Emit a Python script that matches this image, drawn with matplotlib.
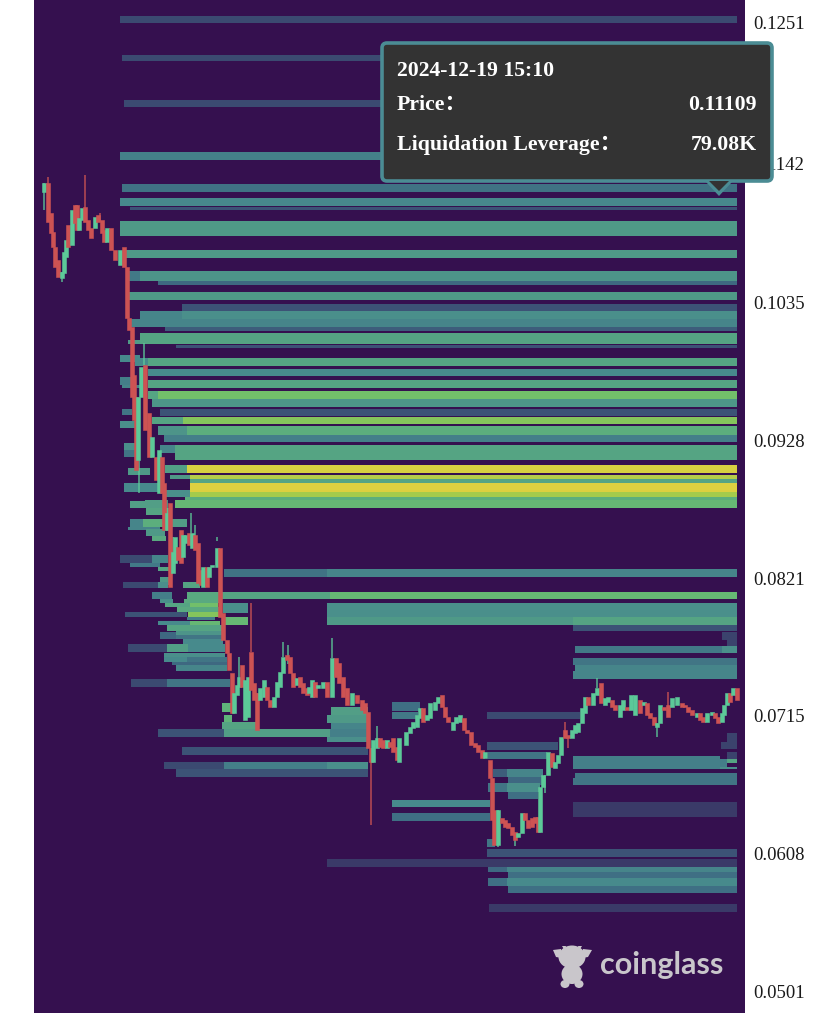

# Liquidation heatmap with candles.
# Hidden time axis runs in chart units (34..745); prices on the right.
import matplotlib
matplotlib.use("Agg")
import matplotlib.pyplot as plt
import matplotlib.patches as mpatches
from matplotlib.colors import LinearSegmentedColormap, Normalize

PRICE_TICKS = [0.1251, 0.1142, 0.1035, 0.0928, 0.0821, 0.0715, 0.0608, 0.0501]
PRICE_LABELS = ["0.1251", "0.1142", "0.1035", "0.0928", "0.0821", "0.0715", "0.0608", "0.0501"]

# (price high, price low, time start, time end, liquidation leverage in K)
BANDS_TOP = [
    (0.12564, 0.12510, 120, 737, 38),
    (0.12262, 0.12216, 122, 737, 38),
    (0.11914, 0.11860, 124, 737, 38),
    (0.11512, 0.11450, 120, 737, 72),
    (0.11264, 0.11202, 122, 737, 58),
    (0.11155, 0.11094, 120, 737, 79),
    (0.11086, 0.11063, 130, 737, 42),
    (0.10977, 0.10861, 120, 737, 95),
    (0.10753, 0.10691, 124, 737, 95),
    (0.10590, 0.10513, 128, 140, 65),
    (0.10590, 0.10513, 140, 737, 90),
    (0.10513, 0.10482, 158, 737, 50),
    (0.10428, 0.10366, 128, 737, 95),
    (0.10335, 0.10281, 182, 737, 42),
    (0.10281, 0.10219, 140, 182, 75),
    (0.10281, 0.10203, 182, 737, 85),
    (0.10219, 0.10157, 130, 737, 75),
    (0.10157, 0.10126, 165, 737, 45),
    (0.10111, 0.10025, 140, 737, 105),
    (0.10060, 0.10025, 128, 140, 95),
    (0.10018, 0.09994, 176, 737, 42),
]
BANDS_MIDDLE = [
    (0.09940, 0.09886, 120, 140, 80),
    (0.09917, 0.09855, 135, 148, 80),
    (0.09917, 0.09855, 148, 737, 105),
    (0.09832, 0.09778, 148, 737, 80),
    (0.09770, 0.09708, 120, 135, 70),
    (0.09708, 0.09685, 122, 140, 75),
    (0.09747, 0.09685, 148, 737, 105),
    (0.09662, 0.09600, 148, 158, 105),
    (0.09662, 0.09600, 158, 737, 135),
    (0.09600, 0.09538, 152, 737, 92),
    (0.09522, 0.09468, 160, 737, 42),
    (0.09522, 0.09476, 122, 132, 60),
    (0.09460, 0.09406, 152, 183, 105),
    (0.09460, 0.09406, 183, 737, 150),
    (0.09429, 0.09375, 120, 135, 85),
    (0.09390, 0.09321, 158, 187, 90),
    (0.09390, 0.09321, 187, 737, 115),
    (0.09321, 0.09267, 164, 737, 70),
    (0.09259, 0.09205, 124, 135, 85),
    (0.09205, 0.09151, 124, 135, 60),
    (0.09244, 0.09182, 160, 175, 75),
    (0.09244, 0.09128, 175, 737, 105),
    (0.09089, 0.09027, 165, 187, 100),
    (0.09089, 0.09027, 187, 737, 220),
    (0.09066, 0.09012, 128, 150, 95),
    (0.09012, 0.08980, 170, 190, 95),
    (0.09012, 0.08980, 190, 737, 190),
    (0.08980, 0.08950, 190, 737, 105),
    (0.08950, 0.08880, 190, 737, 225),
    (0.08950, 0.08880, 124, 160, 80),
    (0.08880, 0.08841, 185, 737, 175),
    (0.08896, 0.08841, 165, 190, 85),
    (0.08841, 0.08818, 185, 737, 115),
    (0.08818, 0.08756, 175, 737, 125),
    (0.08818, 0.08756, 145, 165, 100),
    (0.08810, 0.08756, 130, 145, 100),
    (0.08756, 0.08702, 146, 170, 105),
]
BANDS_LEFT = [
    (0.08671, 0.08609, 130, 143, 75),
    (0.08671, 0.08609, 143, 163, 115),
    (0.08671, 0.08609, 172, 187, 100),
    (0.08609, 0.08586, 128, 160, 75),
    (0.08594, 0.08540, 146, 165, 95),
    (0.08540, 0.08501, 152, 166, 110),
    (0.08392, 0.08330, 120, 152, 38),
    (0.08392, 0.08330, 152, 168, 75),
    (0.08330, 0.08299, 130, 160, 65),
    (0.08299, 0.08269, 158, 170, 105),
    (0.08222, 0.08160, 160, 170, 95),
    (0.08183, 0.08137, 123, 158, 38),
    (0.08183, 0.08137, 158, 168, 85),
    (0.08183, 0.08137, 183, 200, 105),
    (0.08106, 0.08052, 152, 172, 70),
    (0.08106, 0.08052, 187, 220, 110),
    (0.08052, 0.08021, 160, 173, 85),
    (0.08052, 0.08021, 184, 220, 110),
    (0.08021, 0.07990, 165, 173, 105),
    (0.08021, 0.07990, 173, 190, 105),
    (0.08021, 0.07990, 190, 218, 135),
    (0.07990, 0.07951, 177, 220, 110),
    (0.07951, 0.07912, 125, 187, 42),
    (0.07951, 0.07912, 188, 220, 150),
    (0.07912, 0.07890, 187, 215, 70),
    (0.07881, 0.07851, 158, 190, 80),
    (0.07881, 0.07851, 190, 220, 125),
    (0.07851, 0.07804, 167, 222, 105),
    (0.07804, 0.07773, 176, 222, 90),
    (0.07796, 0.07742, 160, 176, 50),
    (0.07773, 0.07742, 176, 222, 60),
    (0.07742, 0.07703, 183, 223, 80),
    (0.07703, 0.07642, 128, 167, 38),
    (0.07703, 0.07642, 167, 188, 100),
    (0.07703, 0.07642, 188, 225, 80),
    (0.07634, 0.07603, 164, 225, 85),
    (0.07603, 0.07564, 164, 187, 80),
    (0.07603, 0.07564, 187, 227, 60),
    (0.07564, 0.07541, 172, 227, 50),
    (0.07541, 0.07495, 176, 227, 75),
    (0.07433, 0.07371, 131, 167, 38),
    (0.07433, 0.07371, 167, 230, 60),
]
BANDS_UPPER_RIGHT = [
    (0.08284, 0.08222, 224, 327, 58),
    (0.08284, 0.08222, 327, 737, 75),
    (0.08106, 0.08052, 222, 330, 105),
    (0.08106, 0.08052, 330, 737, 125),
    (0.08021, 0.07943, 223, 248, 85),
    (0.07912, 0.07851, 223, 248, 125),
    (0.08021, 0.07912, 327, 737, 85),
    (0.07912, 0.07851, 327, 573, 95),
    (0.07912, 0.07851, 573, 737, 105),
    (0.07851, 0.07804, 573, 737, 42),
    (0.07796, 0.07734, 722, 737, 36),
    (0.07734, 0.07680, 727, 737, 36),
    (0.07688, 0.07634, 575, 722, 65),
    (0.07688, 0.07634, 722, 737, 85),
    (0.07595, 0.07541, 573, 737, 60),
    (0.07541, 0.07495, 575, 737, 75),
    (0.07495, 0.07433, 573, 737, 75),
]
BANDS_CENTER = [
    (0.07247, 0.07177, 222, 231, 120),
    (0.07154, 0.07100, 224, 232, 120),
    (0.07100, 0.07046, 222, 257, 105),
    (0.07046, 0.06984, 158, 224, 42),
    (0.07046, 0.06984, 224, 330, 100),
    (0.07046, 0.06984, 330, 368, 70),
    (0.06984, 0.06945, 327, 368, 85),
    (0.07216, 0.07154, 331, 368, 100),
    (0.07154, 0.07092, 327, 368, 95),
    (0.07092, 0.07046, 331, 368, 75),
    (0.06906, 0.06844, 182, 368, 42),
    (0.06790, 0.06736, 164, 224, 38),
    (0.06790, 0.06736, 224, 327, 70),
    (0.06790, 0.06736, 327, 368, 85),
    (0.06736, 0.06674, 176, 368, 42),
    (0.07255, 0.07185, 392, 420, 55),
    (0.07177, 0.07123, 392, 418, 65),
    (0.06496, 0.06442, 392, 490, 80),
    (0.06395, 0.06333, 392, 490, 55),
]
BANDS_LOWER_RIGHT = [
    (0.07177, 0.07123, 487, 580, 38),
    (0.06945, 0.06883, 487, 558, 42),
    (0.06868, 0.06813, 488, 547, 60),
    (0.06736, 0.06674, 493, 507, 45),
    (0.06736, 0.06674, 507, 543, 75),
    (0.06674, 0.06612, 508, 542, 50),
    (0.06628, 0.06558, 488, 507, 60),
    (0.06628, 0.06558, 507, 540, 85),
    (0.06558, 0.06504, 508, 538, 55),
    (0.07015, 0.06945, 727, 737, 36),
    (0.06945, 0.06891, 721, 737, 36),
    (0.06868, 0.06813, 727, 737, 36),
    (0.06837, 0.06736, 573, 720, 70),
    (0.06813, 0.06736, 720, 727, 70),
    (0.06813, 0.06782, 727, 737, 105),
    (0.06751, 0.06736, 720, 737, 85),
    (0.06705, 0.06666, 575, 737, 60),
    (0.06666, 0.06612, 573, 737, 60),
    (0.06481, 0.06364, 573, 737, 32),
    (0.06194, 0.06132, 487, 495, 60),
    (0.06117, 0.06055, 487, 737, 42),
    (0.06040, 0.05978, 327, 737, 32),
    (0.05978, 0.05939, 488, 507, 50),
    (0.05978, 0.05939, 507, 737, 75),
    (0.05939, 0.05892, 508, 737, 55),
    (0.05892, 0.05830, 488, 507, 55),
    (0.05892, 0.05830, 507, 737, 80),
    (0.05830, 0.05776, 508, 737, 55),
    (0.05691, 0.05629, 489, 737, 32),
]
BAND_GROUPS = [BANDS_TOP, BANDS_MIDDLE, BANDS_LEFT, BANDS_UPPER_RIGHT, BANDS_CENTER, BANDS_LOWER_RIGHT]

CANDLE_T = [
    44, 48, 51, 53, 55, 58, 62, 64, 66, 68, 72, 75, 77, 79, 82, 85, 88, 91, 95, 98,
    102, 104, 107, 111, 115, 120, 124, 127, 129, 132, 134, 136, 138, 141, 145, 149, 152, 156, 159, 162,
    164, 167, 170, 173, 175, 178, 181, 183, 186, 189, 192, 195, 198, 201, 203, 207, 209, 212, 217, 220,
    223, 227, 229, 232, 234, 237, 239, 242, 245, 248, 251, 254, 257, 260, 264, 267, 270, 274, 277, 280,
    283, 287, 290, 293, 297, 300, 303, 307, 309, 312, 315, 318, 323, 327, 332, 336, 339, 343, 347, 352,
    357, 362, 365, 368, 371, 373, 377, 380, 383, 387, 390, 393, 397, 399, 406, 410, 413, 417, 420, 423,
    427, 430, 435, 438, 442, 445, 448, 453, 456, 460, 464, 467, 471, 475, 478, 482, 485, 490, 492, 494,
    498, 502, 505, 508, 512, 515, 518, 522, 525, 528, 532, 535, 538, 540, 543, 548, 552, 555, 558, 561,
    565, 568, 572, 575, 578, 582, 585, 588, 593, 597, 601, 605, 608, 612, 615, 620, 623, 627, 631, 635,
    640, 644, 647, 650, 654, 657, 660, 664, 668, 672, 677, 682, 685, 688, 692, 697, 700, 703, 707, 712,
    715, 718, 722, 724, 727, 730, 733, 737,
]
CANDLE_OPEN = [
    .11202, .11272, .11040, .10892, .10776, .10676, .10536, .10575, .10699, .10947,
    .10792, .11101, .11101, .10908, .10985, .11086, .10985, .10923, .10923, .11024,
    .10985, .10908, .10815, .10923, .10753, .10637, .10776, .10622, .10227, .10157,
    .09786, .09615, .09128, .09615, .09863, .09491, .09151, .09151, .08872, .09151,
    .08950, .08586, .08795, .08253, .08330, .08454, .08586, .08377, .08485, .08563,
    .08446, .08547, .08485, .08276, .08145, .08299, .08222, .08299, .08299, .08446,
    .07943, .07734, .07634, .07479, .07170, .07309, .07371, .07541, .07115, .07138,
    .07642, .07402, .07324, .07270, .07293, .07371, .07270, .07216, .07293, .07371,
    .07479, .07618, .07603, .07479, .07386, .07448, .07402, .07363, .07324, .07293,
    .07410, .07363, .07363, .07410, .07293, .07595, .07556, .07448, .07363, .07231,
    .07309, .07270, .07247, .07177, .06898, .06790, .06898, .06976, .06960, .06898,
    .06945, .06976, .06906, .06790, .06922, .07015, .07053, .07061, .07130, .07208,
    .07115, .07130, .07193, .07247, .07309, .07216, .07138, .07038, .07092, .07100,
    .07130, .07038, .07022, .06937, .06922, .06883, .06821, .06806, .06666, .06419,
    .06148, .06357, .06341, .06318, .06287, .06248, .06210, .06240, .06395, .06341,
    .06357, .06364, .06364, .06248, .06597, .06690, .06860, .06744, .06782, .06844,
    .07038, .06999, .06976, .07015, .07022, .07092, .07170, .07293, .07231, .07309,
    .07402, .07231, .07255, .07270, .07231, .07138, .07193, .07216, .07193, .07154,
    .07270, .07231, .07247, .07170, .07138, .07061, .07092, .07216, .07231, .07216,
    .07231, .07247, .07231, .07216, .07193, .07138, .07169, .07138, .07100, .07154,
    .07169, .07138, .07100, .07154, .07231, .07324, .07309, .07363,
]
CANDLE_CLOSE = [
    .11272, .10970, .10885, .10776, .10622, .10544, .10583, .10738, .10830, .10776,
    .11063, .10962, .10908, .11001, .11078, .10970, .10908, .10846, .11008, .10970,
    .10885, .10815, .10923, .10753, .10676, .10753, .10622, .10227, .10134, .09615,
    .09437, .09050, .09615, .09848, .09360, .09151, .09306, .08973, .09205, .08872,
    .08586, .08718, .08145, .08416, .08532, .08354, .08330, .08547, .08547, .08470,
    .08563, .08431, .08176, .08160, .08299, .08145, .08299, .08315, .08446, .07912,
    .07734, .07634, .07502, .07170, .07324, .07386, .07448, .07371, .07425, .07448,
    .07347, .07270, .07038, .07363, .07425, .07270, .07216, .07293, .07410, .07487,
    .07603, .07580, .07479, .07371, .07440, .07371, .07324, .07309, .07371, .07425,
    .07293, .07386, .07410, .07293, .07595, .07448, .07402, .07293, .07231, .07324,
    .07247, .07193, .07170, .06898, .06790, .06960, .06976, .06906, .06898, .06960,
    .06906, .06868, .06806, .06976, .07022, .07061, .07100, .07154, .07208, .07100,
    .07154, .07247, .07255, .07293, .07216, .07138, .07100, .07100, .07138, .07154,
    .07038, .07015, .06922, .06906, .06868, .06821, .06868, .06666, .06341, .06148,
    .06419, .06318, .06287, .06280, .06225, .06186, .06240, .06395, .06341, .06280,
    .06287, .06318, .06248, .06597, .06690, .06868, .06751, .06790, .06844, .06984,
    .06976, .06976, .07038, .07077, .07092, .07208, .07293, .07231, .07324, .07363,
    .07247, .07285, .07293, .07216, .07193, .07231, .07270, .07193, .07309, .07309,
    .07170, .07255, .07154, .07130, .07077, .07092, .07231, .07193, .07138, .07285,
    .07293, .07216, .07216, .07177, .07154, .07169, .07115, .07100, .07169, .07177,
    .07130, .07092, .07169, .07231, .07324, .07255, .07363, .07270,
]

# wicks that stand out from the bodies: (time, low, high)
WICKS_GREEN = [
    (44, .11063, .11272), (62, .10506, .10583), (139, .08872, .09205), (144, .09860, .10033),
    (167, .08580, .08818), (173, .08250, .08532), (191, .08560, .08718), (195, .08500, .08624),
    (217, .08500, .08532), (239, .07400, .07603), (283, .07600, .07719), (288, .07550, .07696),
    (332, .07595, .07750), (498, .06132, .06419), (515, .06140, .06186), (545, .06550, .06690),
    (597, .07360, .07440), (657, .06984, .07092), (377, .06900, .07070),
]
WICKS_RED = [
    (48, .10970, .11318), (85, .10970, .11335), (100, .10970, .11040), (251, .07642, .08021),
    (257, .07038, .07324), (371, .06303, .06900), (565, .06976, .07100), (568, .06898, .06976),
    (668, .07138, .07332),
]

BACKGROUND = "#35104f"
CANDLE_RED = "#cd5353"
CANDLE_GREEN = "#5cc998"
LEVEL_MAX = 225
LEVEL_COLOURS = [
    (0, BACKGROUND), (32, "#3a3a68"), (50, "#3e6a82"), (80, "#478a8c"), (100, "#529e86"),
    (120, "#5fb47a"), (140, "#78c265"), (165, "#98ca4e"), (225, "#dcd040"),
]

cmap = LinearSegmentedColormap.from_list(
    "liq", [(v / LEVEL_MAX, c) for v, c in LEVEL_COLOURS])
norm = Normalize(0, LEVEL_MAX)

fig = plt.figure(figsize=(8.29, 10.19), dpi=100)
ax = fig.add_axes([34 / 829, 6 / 1019, 711 / 829, 1013 / 1019])
ax.set_facecolor(BACKGROUND)
ax.set_xlim(34, 745)
ax.set_ylim(0.04847, 0.12688)

for group in BAND_GROUPS:
    for hi, lo, t0, t1, level in group:
        ax.barh(lo, t1 - t0, height=hi - lo, left=t0, align="edge",
                color=cmap(norm(level)), lw=0, zorder=2)

for wicks, col in ((WICKS_GREEN, CANDLE_GREEN), (WICKS_RED, CANDLE_RED)):
    for t, lo, hi in wicks:
        ax.vlines(t, lo, hi, color=col, lw=1.3, alpha=0.75, zorder=3)

for t, o, c in zip(CANDLE_T, CANDLE_OPEN, CANDLE_CLOSE):
    col = CANDLE_GREEN if c >= o else CANDLE_RED
    ax.bar(t, abs(c - o), bottom=min(o, c), width=3.6, color=col, ec=col, lw=0.4, zorder=4)

ax.set_xticks([])
ax.yaxis.tick_right()
ax.set_yticks(PRICE_TICKS)
ax.set_yticklabels(PRICE_LABELS, family="Liberation Serif", fontsize=13.5, color="#1a1a1a")
ax.tick_params(axis="y", length=0, pad=6)
for side in ax.spines.values():
    side.set_visible(False)

# tooltip and logo sit above everything, placed in figure pixels
over = fig.add_axes([0, 0, 1, 1])
over.set_xlim(0, 829)
over.set_ylim(1019, 0)
over.axis("off")
over.patch.set_alpha(0)

TIP_EDGE = "#4b8c94"
over.add_patch(mpatches.FancyBboxPatch(
    (382, 43), 390, 138, boxstyle="round,pad=0,rounding_size=5",
    fc="#333333", ec=TIP_EDGE, lw=2.6, zorder=5))
over.add_patch(mpatches.Polygon([(706, 182), (732, 182), (719, 196)], closed=True,
                                fc=TIP_EDGE, ec="none", zorder=5))
over.add_patch(mpatches.Polygon([(709, 181), (729, 181), (719, 191)], closed=True,
                                fc="#333333", ec="none", zorder=6))

tip_font = dict(family=["Liberation Serif", "Noto Sans CJK SC"], fontweight="bold",
                fontsize=15.7, color="white", va="center", zorder=7)
over.text(397, 71, "2024-12-19 15:10", **tip_font)
over.text(397, 105, "Price：", **tip_font)
over.text(757, 105, "0.11109", ha="right", **tip_font)
over.text(397, 145, "Liquidation Leverage：", **tip_font)
over.text(757, 145, "79.08K", ha="right", **tip_font)

# coinglass mark: a rough cow built from simple shapes
LOGO = "#c9c6cb"
over.add_patch(mpatches.Ellipse((572, 957), 27, 23, fc=LOGO, ec="none"))
over.add_patch(mpatches.Polygon([(553, 950), (561, 949), (562, 958), (556, 957)], fc=LOGO, ec="none"))
over.add_patch(mpatches.Polygon([(592, 950), (583, 949), (582, 958), (588, 957)], fc=LOGO, ec="none"))
over.add_patch(mpatches.Polygon([(562, 946), (566, 946), (565, 951)], fc=LOGO, ec="none"))
over.add_patch(mpatches.Polygon([(582, 946), (578, 946), (579, 951)], fc=LOGO, ec="none"))
over.add_patch(mpatches.Ellipse((572, 974), 21, 20, fc=LOGO, ec="none"))
over.add_patch(mpatches.Ellipse((565, 984), 9, 8, fc=LOGO, ec="none"))
over.add_patch(mpatches.Ellipse((579, 984), 9, 8, fc=LOGO, ec="none"))
over.text(600, 965, "coinglass", family="Lato", fontweight="bold", fontsize=22,
          color=LOGO, va="center", ha="left")

fig.savefig("out.png", dpi=100, facecolor="white")
